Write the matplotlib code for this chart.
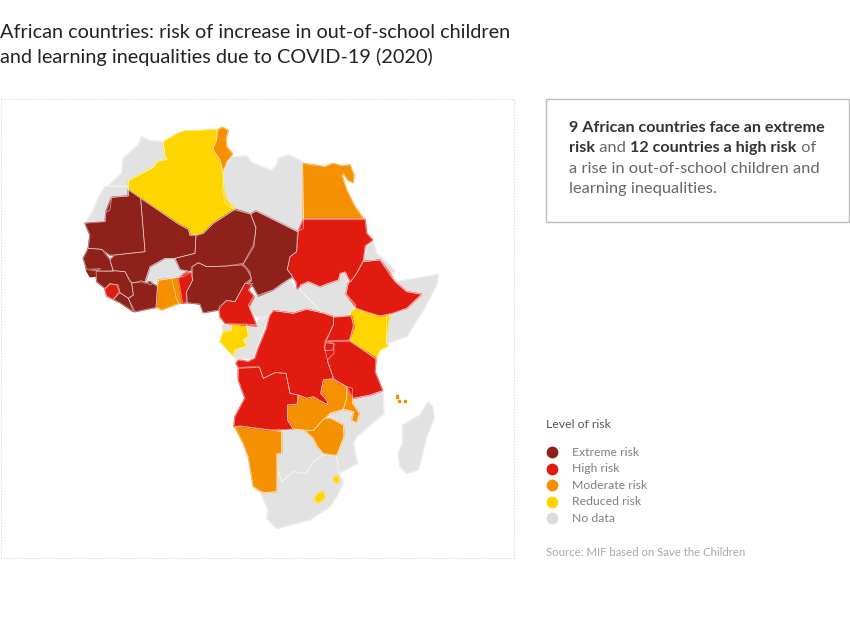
import matplotlib
matplotlib.use("Agg")
import matplotlib.pyplot as plt
from matplotlib.patches import Polygon, Rectangle

# ---------- content ----------
TITLE_LINES = ["African countries: risk of increase in out-of-school children",
               "and learning inequalities due to COVID-19 (2020)"]
LEGEND_TITLE = "Level of risk"
LEVELS = ["Extreme risk", "High risk", "Moderate risk", "Reduced risk", "No data"]
LEVEL_COLORS = ["#8e2119", "#e11b10", "#f59100", "#ffd500", "#e2e2e2"]
SOURCE = "Source: MIF based on Save the Children"
CALLOUT = [[("9 African countries face an extreme", True)],
           [("risk", True), (" and ", False), ("12 countries a high risk", True), (" of", False)],
           [("a rise in out-of-school children and", False)],
           [("learning inequalities.", False)]]

# ---------- country outlines (map), grouped by sheet ----------
NW_ORIGIN = (70, 110)
NW_OUTLINES = {
 "Morocco": ("No data", [(215,80),(240,92),(280,95),(285,140),(292,148),(262,155),(250,172),(175,212),(175,228),(115,228),(155,190),(160,145),(205,105)]),
 "Western Sahara": ("No data", [(105,230),(175,230),(175,258),(125,262),(120,300),(105,308),(105,335),(50,335),(75,290),(85,265)]),
 "Algeria": ("Reduced risk", [(280,95),(320,72),(345,62),(385,62),(440,58),(440,90),(428,118),(450,150),(458,185),(462,240),(470,270),(495,298),(430,340),(400,370),(360,376),(355,358),(325,342),(175,238),(175,212),(250,172),(262,155),(292,148),(285,140)]),
 "Tunisia": ("Moderate risk", [(445,58),(458,52),(475,62),(468,85),(470,110),(488,132),(470,155),(460,182),(450,150),(428,118),(440,90)]),
 "Mauritania": ("Extreme risk", [(175,240),(212,265),(225,425),(135,435),(120,435),(95,418),(55,415),(60,375),(45,340),(105,335),(108,305),(125,262),(175,258)]),
 "Mali": ("Extreme risk", [(212,265),(325,342),(355,358),(360,376),(378,378),(375,430),(315,445),(285,445),(240,470),(225,515),(190,518),(180,515),(165,485),(130,482),(120,450),(135,435),(225,425)]),
 "Senegal": ("Extreme risk", [(40,445),(55,415),(95,418),(120,450),(130,485),(78,482),(92,476),(50,478)]),
 "Guinea-Bissau": ("Extreme risk", [(50,482),(80,484),(80,498),(60,500)]),
 "Guinea": ("Extreme risk", [(78,484),(130,482),(165,485),(185,520),(190,555),(175,565),(150,548),(145,525),(120,520),(105,535),(80,515)]),
 "Gambia": ("High risk", [(48,465),(92,463),(95,470),(50,480)]),
 "Sierra Leone": ("High risk", [(105,538),(120,522),(140,525),(148,545),(130,568),(110,558)]),
 "Liberia": ("Extreme risk", [(130,568),(150,548),(175,565),(190,605),(150,578)]),
 "Ivory Coast": ("Extreme risk", [(185,520),(215,512),(225,520),(240,515),(262,530),(258,592),(195,605),(175,565),(190,555)]),
 "Burkina Faso": ("No data", [(225,515),(240,470),(285,445),(315,445),(330,480),(365,485),(340,500),(305,505),(262,512),(240,525)]),
 "Ghana": ("Moderate risk", [(265,510),(305,505),(320,570),(328,580),(275,600),(258,590)]),
 "Togo": ("Moderate risk", [(308,507),(322,505),(335,580),(320,578)]),
 "Benin": ("High risk", [(325,505),(345,490),(362,485),(368,510),(350,545),(350,578),(338,580)]),
 "Nigeria": ("Extreme risk", [(368,470),(385,458),(410,470),(470,468),(515,465),(528,475),(545,505),(525,520),(495,575),(470,570),(445,600),(400,608),(390,582),(352,578),(350,545),(368,510)]),
 "Niger": ("Extreme risk", [(495,298),(542,312),(558,355),(550,405),(520,460),(470,468),(410,470),(385,458),(365,470),(362,485),(330,478),(315,445),(375,430),(378,378),(400,370),(430,340)]),
}

NE_ORIGIN = (210, 140)
NE_OUTLINES = {
 "Libya": ("No data", [(42,90),(68,50),(110,48),(125,68),(185,92),(200,75),(205,55),(235,45),(278,65),(280,235),(280,265),(262,275),(138,213),(122,222),(75,210),(45,190),(38,150)]),
 "Egypt": ("Moderate risk", [(278,70),(310,75),(345,80),(370,70),(395,78),(420,75),(432,105),(430,128),(415,122),(400,100),(396,106),(410,150),(435,200),(460,235),(280,235)]),
 "Chad": ("Extreme risk", [(122,222),(138,213),(262,275),(260,335),(240,350),(232,388),(248,410),(215,432),(190,450),(145,468),(130,440),(110,430),(125,425),(120,395),(100,372),(132,320),(138,262)]),
 "Sudan": ("High risk", [(280,238),(465,238),(470,280),(488,300),(465,318),(460,360),(440,400),(422,425),(405,395),(390,400),(385,420),(355,430),(330,440),(295,425),(272,435),(262,448),(258,425),(232,388),(240,350),(260,335),(265,275)]),
 "South Sudan": ("No data", [(272,435),(295,425),(330,440),(355,430),(385,420),(392,400),(408,398),(415,430),(408,462),(438,495),(422,515),(400,530),(370,530),(335,518),(310,490),(270,450)]),
 "Central African Republic": ("No data", [(130,470),(190,450),(215,432),(240,417),(258,448),(270,450),(310,490),(335,518),(290,508),(250,520),(190,512),(160,540),(130,525),(115,495)]),
 "Eritrea and Djibouti": ("No data", [(470,315),(490,308),(500,340),(530,365),(555,395),(540,405),(510,360),(460,365)]),
 "Ethiopia": ("High risk", [(460,365),(510,360),(540,400),(555,425),(590,455),(635,463),(590,505),(545,520),(510,528),(470,515),(440,505),(408,462),(415,430),(422,425),(440,400)]),
 "Somalia": ("No data", [(540,405),(560,425),(590,420),(650,410),(685,403),(680,435),(640,510),(590,590),(530,610),(530,530),(590,505),(635,463),(590,455),(555,425)]),
 "Kenya": ("Reduced risk", [(438,505),(470,518),(510,528),(540,522),(528,610),(535,618),(510,630),(498,658),(420,600),(430,555),(420,518)]),
 "Cameroon": ("High risk", [(27,500),(50,482),(75,485),(105,430),(128,430),(115,450),(133,470),(117,500),(140,558),(45,550),(30,530)]),
 "Equatorial Guinea": ("No data", [(35,555),(65,555),(65,572),(38,572)]),
 "Gabon": ("Reduced risk", [(40,575),(65,572),(65,552),(110,552),(115,590),(100,600),(112,618),(75,630),(70,648),(30,605)]),
 "Congo": ("No data", [(148,532),(178,530),(165,560),(140,625),(130,655),(110,655),(80,660),(70,648),(75,630),(112,618),(100,600),(115,590),(110,552),(140,555)]),
 "Uganda": ("High risk", [(370,532),(425,528),(432,560),(418,600),(358,602),(348,605),(370,555)]),
}

SOUTH_ORIGIN = (210, 330)
SOUTH_OUTLINES = {
 "Madagascar": ("No data", [(655,215),(668,230),(672,265),(650,320),(625,420),(590,430),(570,410),(565,370),(578,340),(578,285),(630,255)]),
 "Mozambique": ("No data", [(430,205),(480,195),(518,182),(522,250),(440,320),(430,340),(442,400),(385,430),(380,378),(402,320),(400,285),(360,260),(360,250),(400,238),(432,245),(425,270),(440,285),(448,250),(428,220)]),
 "Botswana": ("No data", [(215,305),(250,297),(285,302),(310,325),(322,350),(340,372),(310,395),(290,430),(250,425),(215,455),(205,420),(200,372),(215,370)]),
 "South Africa": ("No data", [(200,485),(205,425),(215,455),(250,425),(285,432),(310,395),(340,375),(380,378),(392,440),(400,455),(385,490),(360,530),(300,570),(200,595),(170,565),(175,540),(150,485),(160,488)]),
 "DR Congo": ("High risk", [(190,-58),(250,-50),(290,-62),(335,-52),(370,-40),(370,-15),(345,35),(345,60),(355,100),(370,145),(340,150),(332,190),(350,210),(355,225),(335,215),(310,200),(290,205),(265,195),(240,190),(228,130),(195,128),(160,145),(148,110),(85,112),(78,100),(85,90),(115,95),(135,85),(145,55),(170,-5),(178,-40)]),
 "Rwanda": ("High risk", [(342,50),(350,38),(372,42),(368,60),(345,62)]),
 "Burundi": ("High risk", [(347,62),(368,62),(372,70),(352,90)]),
 "Tanzania": ("High risk", [(355,35),(420,35),(498,85),(495,125),(505,150),(518,182),(480,195),(430,205),(410,170),(372,148),(355,100),(352,90),(372,70),(372,40)]),
 "Angola": ("High risk", [(85,115),(148,112),(160,145),(195,128),(228,130),(240,190),(262,195),(262,222),(232,225),(232,270),(250,297),(180,300),(90,288),(72,290),(75,260),(105,205),(85,150)]),
 "Zambia": ("Moderate risk", [(265,195),(290,205),(310,200),(335,215),(355,225),(350,210),(332,190),(340,150),(372,148),(410,170),(410,205),(400,238),(360,250),(340,268),(310,302),(285,300),(250,297),(232,270),(232,225),(262,222)]),
 "Malawi": ("Moderate risk", [(412,170),(428,175),(428,220),(448,250),(440,278),(425,270),(432,245),(400,238),(410,205)]),
 "Zimbabwe": ("Moderate risk", [(285,302),(310,302),(340,268),(360,265),(400,285),(402,320),(380,375),(340,370),(322,350),(310,325)]),
 "Namibia": ("Moderate risk", [(75,292),(90,288),(180,300),(215,305),(215,370),(200,372),(200,485),(160,488),(130,470),(115,380),(100,340)]),
 "Lesotho": ("Reduced risk", [(325,488),(342,485),(345,505),(325,520),(312,508)]),
 "Eswatini": ("Reduced risk", [(372,440),(385,438),(388,455),(378,460),(370,450)]),
 "Seychelles A": ("Moderate risk", [(558,196),(563,196),(563,204),(558,204)]),
 "Seychelles B": ("Moderate risk", [(564,209),(570,209),(570,215),(564,215)]),
 "Seychelles C": ("Moderate risk", [(581,210),(587,210),(587,216),(581,216)]),
}

# ---------- drawing ----------
plt.rcParams["font.family"] = ["Lato", "DejaVu Sans"]
fig = plt.figure(figsize=(8.5, 6.17), dpi=100)
ax = fig.add_axes([0, 0, 1, 1])
ax.set_xlim(0, 850)
ax.set_ylim(617, 0)
ax.axis("off")

color_of = dict(zip(LEVELS, LEVEL_COLORS))

ax.add_patch(Rectangle((0.5, 98.5), 514, 459, fill=False, ec="#dcdcdc", lw=0.7, ls=(0, (1.5, 1.5))))

layers = []
for origin, group in ((NW_ORIGIN, NW_OUTLINES), (NE_ORIGIN, NE_OUTLINES), (SOUTH_ORIGIN, SOUTH_OUTLINES)):
    for name, (level, pts) in group.items():
        layers.append((level, [(origin[0] + x / 3, origin[1] + y / 3) for x, y in pts]))
for wanted in LEVELS[::-1]:
    for level, pts in layers:
        if level == wanted:
            ax.add_patch(Polygon(pts, closed=True, fc=color_of[level], ec=color_of[level],
                                 lw=1.0, joinstyle="round", zorder=2))
for level, pts in layers:
    if len(pts) > 4:
        ax.add_patch(Polygon(pts, closed=True, fill=False, ec="white", lw=0.5,
                             alpha=0.6, joinstyle="round", zorder=2.5))

for i, line in enumerate(TITLE_LINES):
    ax.text(0, 32 + 25 * i, line, fontsize=14.3, color="#222222", va="center", ha="left")

ax.add_patch(Rectangle((546.5, 98.5), 303, 123, fc="white", ec="#bbbbbb", lw=1))

fig.canvas.draw()
renderer = fig.canvas.get_renderer()
inv = ax.transData.inverted()
for i, segs in enumerate(CALLOUT):
    x = 569
    y = 128 + 20.3 * i
    for txt, bold in segs:
        t = ax.text(x, y, txt.replace(" ", "\u00a0"), fontsize=11.6 if bold else 11.8,
                    va="center", ha="left", fontweight="bold" if bold else "normal",
                    color="#333333" if bold else "#666666")
        bb = t.get_window_extent(renderer)
        x = inv.transform((bb.x1, 0))[0]

ax.text(546, 424, LEGEND_TITLE, fontsize=8.8, color="#555555", va="center", ha="left")
for i, (lab, col) in enumerate(zip(LEVELS, LEVEL_COLORS)):
    y = 452.3 + 16.5 * i
    ax.scatter([552], [y], s=72, c=["#dcdcdc" if lab == "No data" else col], linewidths=0, zorder=3)
    ax.text(572, y, lab, fontsize=8.8, color="#808080", va="center", ha="left")
ax.text(546, 552.5, SOURCE, fontsize=8.2, color="#a8a8a8", va="center", ha="left")

fig.savefig("out.png", dpi=100)
